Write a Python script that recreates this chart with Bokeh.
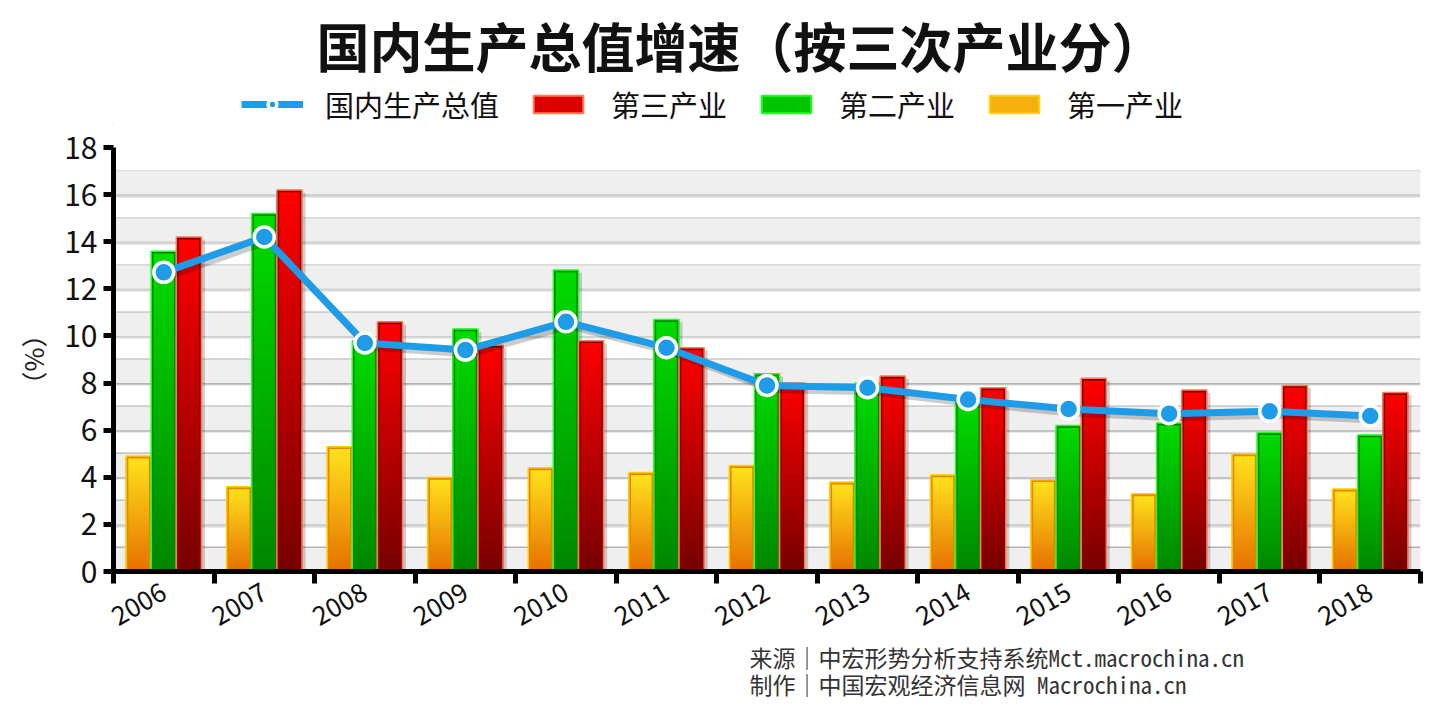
import numpy as np
from bokeh.plotting import figure
from bokeh.layouts import column
from bokeh.models import (Range1d, FixedTicker, Legend, LegendItem, Title, Grid)
from bokeh.embed import file_html
from bokeh.resources import INLINE

years = ["2006", "2007", "2008", "2009", "2010", "2011", "2012",
         "2013", "2014", "2015", "2016", "2017", "2018"]
gdp = [12.7, 14.2, 9.7, 9.4, 10.6, 9.5, 7.9, 7.8, 7.3, 6.9, 6.7, 6.8, 6.6]
tertiary = [14.2, 16.2, 10.6, 9.6, 9.8, 9.5, 8.0, 8.3, 7.8, 8.2, 7.7, 7.9, 7.6]
secondary = [13.6, 15.2, 9.8, 10.3, 12.8, 10.7, 8.4, 8.0, 7.2, 6.2, 6.3, 5.9, 5.8]
primary = [4.9, 3.6, 5.3, 4.0, 4.4, 4.2, 4.5, 3.8, 4.1, 3.9, 3.3, 5.0, 3.5]

TITLE = "国内生产总值增速（按三次产业分）"
LEG_LABELS = ["国内生产总值", "第三产业", "第二产业", "第一产业"]
FOOT1 = "来源｜中宏形势分析支持系统Mct.macrochina.cn"
FOOT2 = "制作｜中国宏观经济信息网  Macrochina.cn"
CJK = "Noto Sans CJK SC"
MONO = "Noto Sans Mono CJK SC"

W = 1434
HH = 125          # header (title + legend)
HM = 701 - HH     # main chart

BLUE = "#1f9ce8"

# ---------------- header figure: title + legend ----------------
hdr = figure(width=W, height=HH, output_backend="svg", toolbar_location=None,
             x_range=Range1d(0, 10), y_range=Range1d(0, 10),
             min_border_left=0, min_border_right=0, min_border_top=82,
             min_border_bottom=0)
hdr.axis.visible = False
hdr.grid.visible = False
hdr.outline_line_color = None
hdr.border_fill_color = "white"
hdr.background_fill_color = "white"

hl = hdr.line(x=[-5, -4], y=[-5, -5], line_color=BLUE, line_width=7)
hs = hdr.scatter(x=[-5], y=[-5], size=20, fill_color=BLUE, line_color="white",
                 line_width=3.5)
h3 = hdr.vbar(x=[-5], top=[-4], bottom=[-5], width=0.2, fill_color="#dd0000",
              line_color="#ff7a55", line_width=2)
h2 = hdr.vbar(x=[-5], top=[-4], bottom=[-5], width=0.2, fill_color="#00c400",
              line_color="#22ff22", line_width=2)
h1 = hdr.vbar(x=[-5], top=[-4], bottom=[-5], width=0.2, fill_color="#f5b010",
              line_color="#ffd400", line_width=2)

legend = Legend(items=[LegendItem(label=LEG_LABELS[0], renderers=[hl, hs]),
                       LegendItem(label=LEG_LABELS[1], renderers=[h3]),
                       LegendItem(label=LEG_LABELS[2], renderers=[h2]),
                       LegendItem(label=LEG_LABELS[3], renderers=[h1])],
                orientation="horizontal", location=(128, 0),
                label_text_font=CJK, label_text_font_size="29px",
                label_text_color="#111111",
                glyph_width=62, glyph_height=22, label_standoff=22, spacing=28,
                padding=0, margin=0, border_line_color=None,
                background_fill_alpha=0)
hdr.add_layout(legend, "center")

hdr.title.text = TITLE
hdr.title.text_font = CJK
hdr.title.text_font_size = "53px"
hdr.title.text_font_style = "bold"
hdr.title.align = "left"
hdr.title.offset = 203
hdr.title.standoff = 0
hdr.title.text_color = "#111111"

# ---------------- main chart ----------------
p = figure(width=W, height=HM, output_backend="svg", toolbar_location=None,
           x_range=Range1d(-0.5, 12.5), y_range=Range1d(0, 18),
           min_border_left=113, min_border_right=14, min_border_top=22,
           min_border_bottom=130)
p.outline_line_color = None
p.background_fill_color = "white"
p.border_fill_color = "white"

# background bands
bands = list(range(0, 18, 2))
p.quad(left=-0.5, right=12.5, bottom=bands, top=[b + 1 for b in bands],
       fill_color="#efefef", line_color=None)

p.xgrid.visible = False
p.ygrid.visible = False
shadow_grid = Grid(dimension=1, ticker=FixedTicker(ticks=[k - 0.07 for k in range(1, 18)]),
                   grid_line_color="#d8d8d8", grid_line_width=2)
main_grid = Grid(dimension=1, ticker=FixedTicker(ticks=list(range(1, 19))),
                 grid_line_color="#b3b3b3", grid_line_width=2)
p.add_layout(shadow_grid)
p.add_layout(main_grid)

xs = np.arange(len(years))
series = [
    (primary, -0.25, "#ffe41c", "#e67000", "#ffd000", "#e88400"),
    (secondary, 0.0, "#00dc00", "#008600", "#22ff22", "#008800"),
    (tertiary, 0.25, "#ff0000", "#760000", "#ff7a55", "#8a0000"),
]
BW = 0.25
NS = 30

def mix(c1, c2, t):
    a = [int(c1[i:i + 2], 16) for i in (1, 3, 5)]
    b = [int(c2[i:i + 2], 16) for i in (1, 3, 5)]
    return "#%02x%02x%02x" % tuple(int(round(a[j] + (b[j] - a[j]) * t)) for j in range(3))

for vals, off, *_ in series:
    p.vbar(x=xs + off + 0.035, width=BW, bottom=0, top=np.array(vals) - 0.12,
           fill_color="black", fill_alpha=0.18, line_color=None)

for vals, off, ctop, cbot, outer, inner in series:
    v = np.array(vals)
    xx, bb, tt, cc = [], [], [], []
    for k in range(NS):
        xx.extend(xs + off)
        bb.extend(v * k / NS)
        tt.extend(np.minimum(v * (k + 1.6) / NS, v))
        cc.extend([mix(cbot, ctop, (k + 0.5) / NS)] * len(v))
    p.vbar(x=xx, width=BW, bottom=bb, top=tt, fill_color=cc, line_color=None)
    p.vbar(x=xs + off, width=BW - 0.02, bottom=0.06, top=v - 0.05,
           fill_color=None, line_color=inner, line_width=2.5)
    p.vbar(x=xs + off, width=BW, bottom=0, top=v,
           fill_color=None, line_color=outer, line_width=1.5)

p.line(xs + 0.04, np.array(gdp) - 0.17, line_color="black", line_alpha=0.2, line_width=7)
p.line(xs, gdp, line_color=BLUE, line_width=7)
p.scatter(xs, gdp, size=20, fill_color=BLUE, line_color="white", line_width=3.5)

ya = p.yaxis[0]
ya.ticker = FixedTicker(ticks=list(range(0, 19, 2)))
ya.axis_line_width = 5
ya.axis_line_color = "black"
ya.major_tick_line_width = 5
ya.major_tick_out = 10
ya.major_tick_in = 0
ya.minor_tick_line_color = None
ya.major_label_text_font = CJK
ya.major_label_text_font_size = "30px"
ya.major_label_text_color = "#111111"
ya.major_label_standoff = 6
ya.axis_label = "（%）"
ya.axis_label_text_font = CJK
ya.axis_label_text_font_size = "26px"
ya.axis_label_text_font_style = "normal"
ya.axis_label_text_color = "#222222"
ya.axis_label_standoff = 10

xa = p.xaxis[0]
xa.ticker = FixedTicker(ticks=list(range(len(years))),
                        minor_ticks=[i - 0.5 for i in range(len(years) + 1)])
xa.major_label_overrides = {i: y for i, y in enumerate(years)}
xa.axis_line_width = 5
xa.axis_line_color = "black"
xa.major_tick_line_color = None
xa.major_tick_out = 12
xa.major_tick_in = 0
xa.minor_tick_line_color = "black"
xa.minor_tick_line_width = 5
xa.minor_tick_out = 12
xa.minor_tick_in = 0
xa.major_label_orientation = np.pi / 6
xa.major_label_text_font = CJK
xa.major_label_text_font_size = "26px"
xa.major_label_text_color = "#111111"
xa.major_label_standoff = 6

foot = Title(text=FOOT1 + "\n" + FOOT2, align="left", offset=636, text_font=MONO,
             text_font_size="23px", text_font_style="normal", text_color="#333333",
             text_line_height=0.82, standoff=0)
p.add_layout(foot, "below")

layout = column(hdr, p, spacing=0)
open("out.html", "w").write(file_html(layout, INLINE))
